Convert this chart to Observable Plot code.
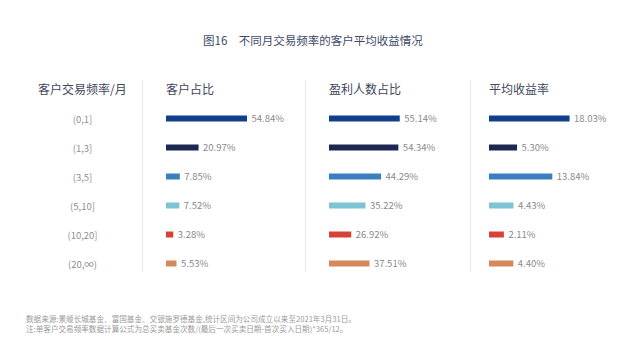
<!DOCTYPE html>
<html>
<head>
<meta charset="utf-8">
<script src="https://cdn.jsdelivr.net/npm/d3@7"></script>
<script src="https://cdn.jsdelivr.net/npm/@observablehq/plot@0.6"></script>
<style>
  html, body { margin: 0; padding: 0; background: #fff; }
  #root { position: relative; width: 640px; height: 348px; overflow: hidden; background: #fff;
          font-family: "Noto Sans CJK SC", "Noto Sans", sans-serif; }
  .abs { position: absolute; white-space: nowrap; }
  .title { font-size: 11.5px; color: #3e4b68; }
  .hdr { font-size: 12px; color: #3e4760; }
  .note { font-size: 7.6px; color: #9a9a9a; line-height: 8px; }
  .sep { position: absolute; width: 1px; background: #e8e8e8; }
</style>
</head>
<body>
<div id="root"></div>
<script>
// ---- data ----
const titleText = "图16\u3000不同月交易频率的客户平均收益情况";
const headers = ["客户交易频率/月", "客户占比", "盈利人数占比", "平均收益率"];
const categories = ["(0,1]", "(1,3]", "(3,5]", "(5,10]", "(10,20]", "(20,\u221e)"];
const shareOfClients = [54.84, 20.97, 7.85, 7.52, 3.28, 5.53];
const shareProfitable = [55.14, 54.34, 44.29, 35.22, 26.92, 37.51];
const avgReturn = [18.03, 5.30, 13.84, 4.43, 2.11, 4.40];
const barColors = ["#113f8c", "#1c2752", "#3b7fc0", "#7dc2d5", "#d64336", "#d4885b"];
// axis extents of each panel (as in the original chart's value axes)
const axisStart = [-1.8, 14, -1.5];
const axisEnd = [95.4, 96, 35.1];
const notes = [
  "数据来源:景顺长城基金、富国基金、交银施罗德基金,统计区间为公司成立以来至2021年3月31日。",
  "注:单客户交易频率数据计算公式为总买卖基金次数/(最后一次买卖日期-首次买入日期)*365/12。"
];

// ---- layout ----
const root = document.getElementById("root");
function addDiv(cls, text, left, top) {
  const d = document.createElement("div");
  d.className = "abs " + cls;
  d.textContent = text;
  d.style.left = left + "px";
  d.style.top = top + "px";
  root.appendChild(d);
  return d;
}
addDiv("title", titleText, 203, 32);
const hdrLeft = [38, 166, 329, 489];
headers.forEach((h, i) => addDiv("hdr", h, hdrLeft[i], 80));
notes.forEach((n, i) => addDiv("note", n, 26, 315 + i * 9.5));

[142, 305, 470].forEach(x => {
  const s = document.createElement("div");
  s.className = "sep";
  s.style.left = x + "px";
  s.style.top = "80px";
  s.style.height = "192px";
  root.appendChild(s);
});

const plotTop = 104;
const plotH = 174;
const font = {fontFamily: "'Noto Sans CJK SC', 'Noto Sans', sans-serif", background: "transparent", overflow: "visible"};

function place(svg, left) {
  svg.style.position = "absolute";
  svg.style.left = left + "px";
  svg.style.top = plotTop + "px";
  root.appendChild(svg);
}

// category label column
const catRows = categories.map(c => ({cat: c}));
place(Plot.plot({
  width: 122, height: plotH, margin: 0,
  style: font,
  x: {domain: [0, 1], axis: null},
  y: {type: "point", domain: categories, axis: null, padding: 0.5},
  marks: [
    Plot.text(catRows, {y: "cat", x: () => 0.5, text: "cat", fill: "#8f8f8f", fontSize: 9.5})
  ]
}), 21);

// bar panels
const panels = [
  {values: shareOfClients, left: 142, width: 163, marginLeft: 24},
  {values: shareProfitable, left: 305, width: 165, marginLeft: 24},
  {values: avgReturn, left: 470, width: 170, marginLeft: 19}
];
panels.forEach((p, i) => {
  const rows = categories.map((c, j) => ({cat: c, v: p.values[j], base: axisStart[i]}));
  place(Plot.plot({
    width: p.width, height: plotH,
    marginTop: 0, marginBottom: 0, marginRight: 0, marginLeft: p.marginLeft,
    style: font,
    x: {domain: [axisStart[i], axisEnd[i]], axis: null},
    y: {domain: categories, axis: null, padding: 0},
    color: {domain: categories, range: barColors},
    marks: [
      Plot.barX(rows, {y: "cat", x1: "base", x2: "v", fill: "cat", insetTop: 11.5, insetBottom: 11.5}),
      Plot.text(rows, {y: "cat", x: "v", text: d => d.v.toFixed(2) + "%", textAnchor: "start", dx: 4,
                       fill: "#8a8a8a", fontSize: 9.5})
    ]
  }), p.left);
});
</script>
</body>
</html>
